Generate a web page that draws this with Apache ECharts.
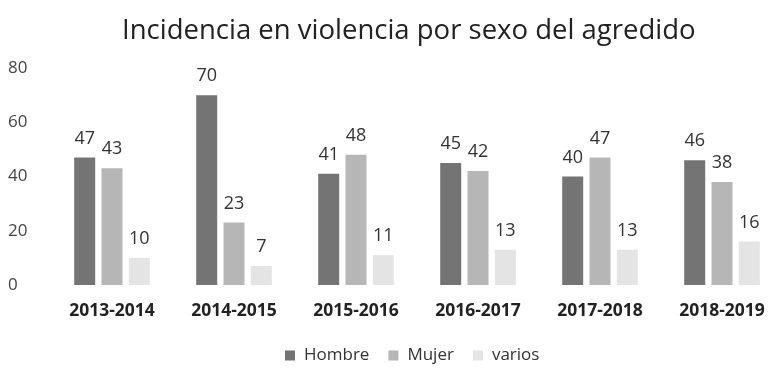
<!DOCTYPE html>
<html>
<head>
<meta charset="utf-8">
<script src="https://cdn.jsdelivr.net/npm/echarts@6/dist/echarts.min.js"></script>
<style>
  html, body { margin: 0; padding: 0; background: #fff; }
  #chart { width: 773px; height: 370px; }
</style>
</head>
<body>
<div id="chart"></div>
<script>
// School years and incidence counts by sex of the aggressor
const categories = ['2013-2014', '2014-2015', '2015-2016', '2016-2017', '2017-2018', '2018-2019'];
const hombre = [47, 70, 41, 45, 40, 46];
const mujer = [43, 23, 48, 42, 47, 38];
const varios = [10, 7, 11, 13, 13, 16];
const yTicks = [0, 20, 40, 60, 80];

const font = 'Open Sans, Noto Sans, sans-serif';

function barSeries(name, data, color) {
  return {
    name: name,
    type: 'bar',
    data: data,
    barWidth: 21,
    barGap: '30%',
    itemStyle: { color: color },
    label: {
      show: true,
      position: 'top',
      distance: 10,
      color: '#333',
      fontSize: 18,
      fontFamily: font
    }
  };
}

const chart = echarts.init(document.getElementById('chart'));
chart.setOption({
  animation: false,
  title: {
    text: 'Incidencia en violencia por sexo del agredido',
    left: 117,
    top: 12,
    textStyle: { fontSize: 27.5, fontWeight: 'normal', color: '#222', fontFamily: font }
  },
  legend: {
    bottom: 1,
    left: 280,
    itemWidth: 10,
    itemHeight: 10,
    itemGap: 19,
    icon: 'rect',
    textStyle: { fontSize: 17, color: '#333', fontFamily: font, padding: [0, 0, 0, 4] }
  },
  grid: { left: 51, width: 732, top: 68, bottom: 85, outerBoundsMode: 'none' },
  xAxis: {
    type: 'category',
    data: categories,
    axisLine: { show: false },
    axisTick: { show: false },
    axisLabel: { fontSize: 17.5, fontWeight: 'bold', color: '#222', fontFamily: font, margin: 17 }
  },
  yAxis: {
    type: 'value',
    min: yTicks[0],
    max: yTicks[yTicks.length - 1],
    interval: 20,
    splitLine: { show: false },
    axisLine: { show: false },
    axisLabel: { fontSize: 17, color: '#444', fontFamily: font, margin: 43, align: 'left',
      formatter: v => yTicks.includes(v) ? String(v) : '' }
  },
  series: [
    barSeries('Hombre', hombre, '#747474'),
    barSeries('Mujer', mujer, '#b6b6b6'),
    barSeries('varios', varios, '#e4e4e4')
  ]
});
</script>
</body>
</html>
